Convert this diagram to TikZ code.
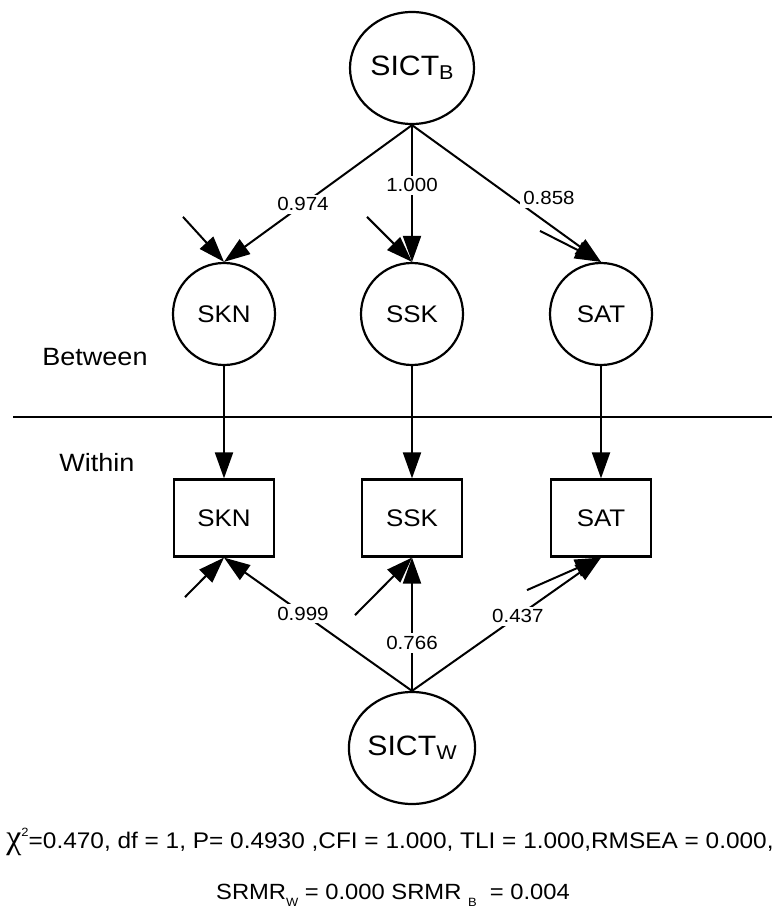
\documentclass[tikz,border=0pt]{standalone}
\usepackage{fontspec}
\setmainfont{Liberation Sans}[FakeStretch=1.08]
\newfontfamily\greekfont{Liberation Serif}
\usetikzlibrary{positioning, calc, shapes.geometric, arrows.meta}

\begin{document}
\begin{tikzpicture}[
    x=0.5pt, y=-0.5pt,
    node distance=102pt and 94pt, on grid,
    factor/.style={
        ellipse, draw, line width=1.1pt, inner sep=0pt,
        minimum width=62pt, minimum height=56pt,
        font=\fontsize{14}{16}\selectfont
    },
    latent/.style={
        circle, draw, line width=1.1pt, inner sep=0pt,
        minimum size=51pt,
        font=\fontsize{12}{14}\selectfont
    },
    indicator/.style={
        rectangle, draw, line width=1.1pt, inner sep=0pt,
        minimum width=50pt, minimum height=38.5pt,
        font=\fontsize{12}{14}\selectfont
    },
    loading/.style={fill=white, inner sep=1.5pt, font=\fontsize{9.5}{11}\selectfont},
    sidelabel/.style={font=\fontsize{12.5}{15}\selectfont},
    effect/.style={line width=1pt, ->},
    >={Triangle[length=13pt, width=9pt]},
  ]
    \useasboundingbox (0,0) rectangle (775,914);

    % Between level
    \node [factor] (sictb) at (412,68) {SICT\raisebox{-2pt}{\fontsize{10}{12}\selectfont B}};
    \node [latent, below=123pt of sictb] (sskb) {SSK};
    \node [latent, left=94pt of sskb] (sknb) {SKN};
    \node [latent, right=94.5pt of sskb] (satb) {SAT};

    % Within level
    \node [indicator, below=102pt of sknb] (sknw) {SKN};
    \node [indicator, below=102pt of sskb] (sskw) {SSK};
    \node [indicator, below=102pt of satb] (satw) {SAT};
    \node [factor, minimum width=61.5pt, below=115pt of sskw] (sictw) {SICT\raisebox{-2pt}{\fontsize{10}{12}\selectfont W}};

    % Level separator
    \coordinate (rulel) at (13,417);
    \coordinate (ruler) at (772,417);
    \draw [line width=0.6pt] (rulel) -- (ruler);
    \node [sidelabel] (between) at (95,357) {Between};
    \node [sidelabel] (within) at (97,463) {Within};

    % Loadings
    \draw [effect] (sictb.south) -- node[loading, pos=0.58] {0.974} (sknb.north);
    \draw [effect] (sictb.south) -- node[loading, pos=0.44] {1.000} (sskb.north);
    \draw [effect] (sictb.south) -- node[loading, pos=0.61, anchor=south west, xshift=-4pt] {0.858} (satb.north);

    \draw [effect] (sictw.north) -- node[loading, pos=0.58] {0.999} (sknw.south);
    \draw [effect] (sictw.north) -- node[loading, pos=0.36] {0.766} (sskw.south);
    \draw [effect] (sictw.north) -- node[loading, pos=0.56] {0.437} (satw.south);

    \draw [effect] (sknb) -- (sknw);
    \draw [effect] (sskb) -- (sskw);
    \draw [effect] (satb) -- (satw);

    % Residuals
    \coordinate (esknb) at ($(sknb.north)+(-41,-45)$);
    \coordinate (esskb) at ($(sskb.north)+(-45,-45)$);
    \coordinate (esatb) at ($(satb.north)+(-61,-31)$);
    \coordinate (esknw) at ($(sknw.south)+(-39,39.5)$);
    \coordinate (esskw) at ($(sskw.south)+(-57,57.5)$);
    \coordinate (esatw) at ($(satw.south)+(-74,32.5)$);
    \draw [effect] (esknb) -- (sknb.north);
    \draw [effect] (esskb) -- (sskb.north);
    \draw [effect] (esatb) -- (satb.north);
    \draw [effect] (esknw) -- (sknw.south);
    \draw [effect] (esskw) -- (sskw.south);
    \draw [effect] (esatw) -- (satw.south);

    % Fit indices
    \node [font=\fontsize{11.3}{13}\selectfont] (chisq) at (390,842)
        {{\greekfont\fontsize{17}{17}\selectfont χ}\raisebox{6pt}{\fontsize{6}{7}\selectfont 2}=0.470, df = 1, P= 0.4930 ,CFI = 1.000, TLI = 1.000,RMSEA = 0.000,};
    \node [font=\fontsize{11}{13}\selectfont] (srmr) at (393,895)
        {SRMR\raisebox{-3.5pt}{\fontsize{6}{7}\selectfont W} = 0.000 SRMR \raisebox{-3.5pt}{\fontsize{6}{7}\selectfont B}\ \ = 0.004};
\end{tikzpicture}
\end{document}
